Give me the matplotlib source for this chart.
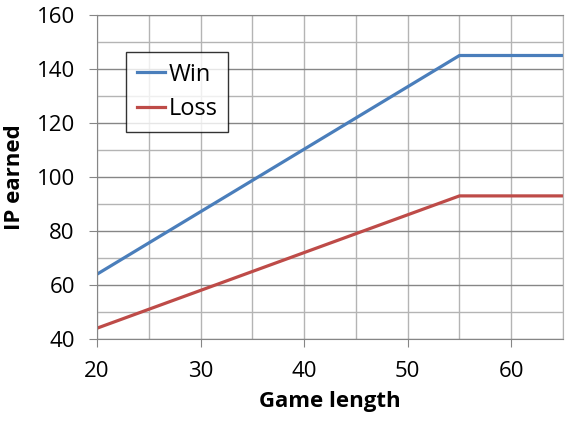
import matplotlib.pyplot as plt
from matplotlib.ticker import MultipleLocator

game_length = [20, 55, 65]
win_ip = [64, 145, 145]
loss_ip = [44, 93, 93]

plt.rcParams['font.family'] = ['Open Sans', 'DejaVu Sans']

fig = plt.figure(figsize=(5.75, 4.23), dpi=100)
ax = fig.add_axes([97 / 575, 1 - 339 / 423, (563 - 97) / 575, (339 - 15) / 423])

ax.plot(game_length, win_ip, color='#4A7EBB', lw=2.3, label='Win')
ax.plot(game_length, loss_ip, color='#BE4B48', lw=2.3, label='Loss')

ax.set_xlim(20, 65)
ax.set_ylim(40, 160)
ax.xaxis.set_major_locator(MultipleLocator(10))
ax.xaxis.set_minor_locator(MultipleLocator(5))
ax.yaxis.set_major_locator(MultipleLocator(20))
ax.yaxis.set_minor_locator(MultipleLocator(10))

# gridlines: vertical light every 5, horizontal darker at majors
ax.grid(which='both', axis='x', color='#b4b4b4', lw=1)
ax.grid(which='major', axis='y', color='#868686', lw=1)
ax.grid(which='minor', axis='y', color='#b4b4b4', lw=1)
ax.set_axisbelow(True)

ax.spines['right'].set_color('#b4b4b4')
for s in ['top', 'left', 'bottom']:
    ax.spines[s].set_color('#868686')

ax.tick_params(which='major', length=6, color='#868686', labelsize=16, pad=10)
ax.tick_params(which='minor', length=0)

ax.set_xlabel('Game length', fontsize=16, fontweight='bold', labelpad=6)
ax.set_ylabel('IP earned', fontsize=16, fontweight='bold', labelpad=8)

leg = ax.legend(loc='upper left', bbox_to_anchor=(29 / 466, 1 - 37 / 324), borderaxespad=0,
                fontsize=17, frameon=True, fancybox=False, handlelength=1.2,
                borderpad=0.45, labelspacing=0.45, handletextpad=0.15)
leg.get_frame().set_edgecolor('black')
leg.get_frame().set_linewidth(1)

fig.savefig('out.png', dpi=100)
